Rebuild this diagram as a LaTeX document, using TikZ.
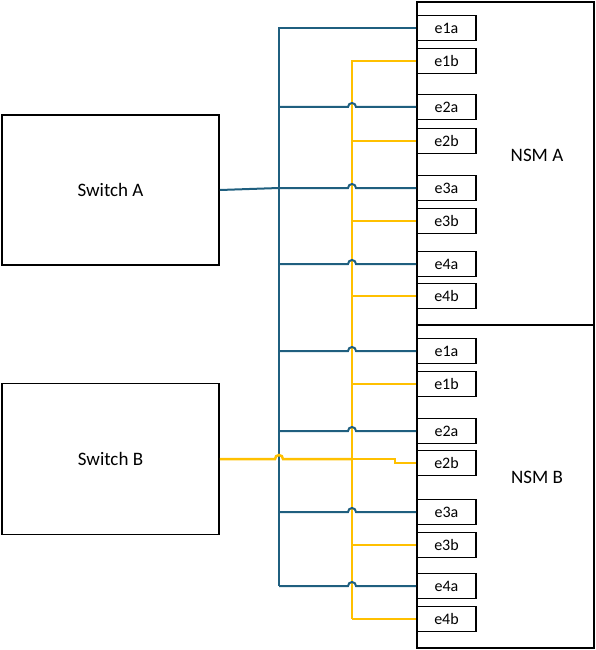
\documentclass[tikz,border=0pt]{standalone}
\usepackage{fontspec}
\setmainfont{Carlito}
\usetikzlibrary{positioning,calc}
\definecolor{azulred}{RGB}{31,95,127}
\definecolor{amarillo}{RGB}{255,192,0}

\begin{document}
\begin{tikzpicture}[x=1pt,y=-1pt,
    caja/.style={draw, line width=1.8pt, minimum width=217pt, font=\fontsize{19}{22}\selectfont},
    nsm/.style={draw, line width=1.5pt, minimum width=177pt, minimum height=323pt},
    puerto/.style={draw, line width=1.6pt, fill=white, minimum width=59pt, minimum height=25pt, font=\fontsize{16}{18}\selectfont},
    cableazul/.style={azulred, line width=2pt},
    cableamar/.style={amarillo, line width=1.5pt}]
    \useasboundingbox (0,0) rectangle (595,650);

    % Switches
    \node[caja, minimum height=150pt] (swA) at (110.5,190) {Switch A};
    \node[caja, minimum height=151pt] (swB) at (110.5,459) {Switch B};

    % Modulos NSM
    \node[nsm] (nsmA) at (505.5,163.5) {};
    \node[nsm] (nsmB) at (505.5,486.5) {};
    \node[font=\fontsize{19}{22}\selectfont] (txtA) at (537,155) {NSM A};
    \node[font=\fontsize{19}{22}\selectfont] (txtB) at (537,477) {NSM B};

    % Puertos
    \foreach \p/\y in {1a/28, 1b/61, 2a/107, 2b/141, 3a/188, 3b/221, 4a/264, 4b/296} {
        \node[puerto] (A\p) at (446.5,\y) {e\p};
    }
    \foreach \p/\y in {1a/351, 1b/384, 2a/431, 2b/463, 3a/512, 3b/545, 4a/586, 4b/619} {
        \node[puerto] (B\p) at (446.5,\y) {e\p};
    }

    % Troncos
    \coordinate (tazul) at (279,0);
    \coordinate (tamar) at (352,0);
    \draw[cableamar] (A1b.west) -- (A1b.west -| tamar) -- (B4b.west -| tamar);
    \draw[cableazul] (A1a.west) -- (A1a.west -| tazul) -- (B4a.west -| tazul);

    % Ramales amarillos
    \foreach \p in {A2b, A3b, A4b, B1b, B3b, B4b} {
        \draw[cableamar] (\p.west -| tamar) -- (\p.west);
    }

    % Ramales azules (con salto sobre el tronco amarillo)
    \foreach \p in {A2a, A3a, A4a, B1a, B2a, B3a, B4a} {
        \draw[cableazul] (\p.west -| tazul) -- ($(\p.west -| tamar)+(-4pt,0)$)
            arc[start angle=180, end angle=0, radius=4pt] -- (\p.west);
    }

    % Conexion de los switches
    \draw[cableazul] (swA.east) -- (A3a.west -| tazul);
    \draw[amarillo, line width=2.5pt] (swB.east) -- ($(swB.east -| tazul)+(-4pt,0)$)
        arc[start angle=180, end angle=0, radius=4pt] -- (swB.east -| tamar);
    \draw[amarillo, line width=1.8pt] (swB.east -| tamar) -- ++(43,0) |- (B2b.west);
\end{tikzpicture}
\end{document}
